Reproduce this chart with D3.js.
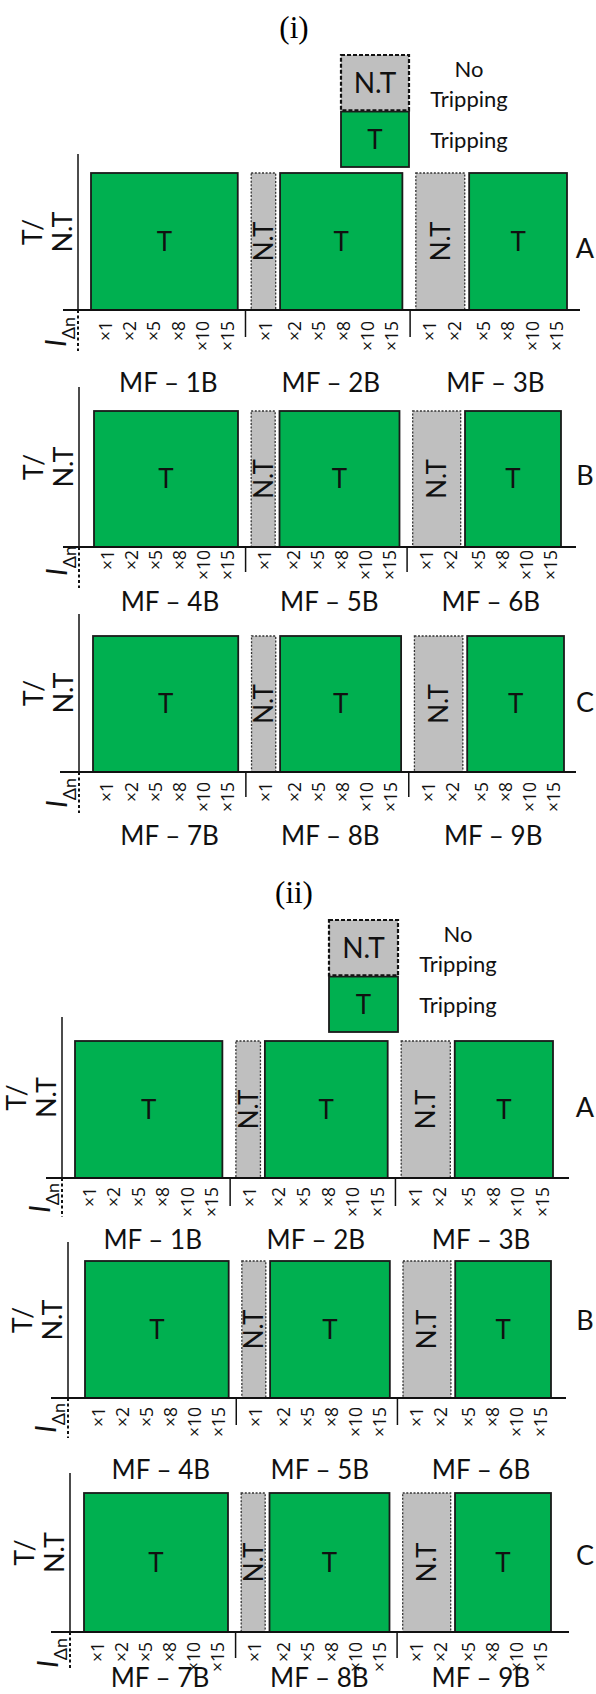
<!DOCTYPE html>
<html>
<head>
<meta charset="utf-8">
<script src="https://cdn.jsdelivr.net/npm/d3@7"></script>
<style>
body { margin: 0; background: #fff; }
svg { display: block; font-family: Lato, "Open Sans", sans-serif; }
</style>
</head>
<body>
<div id="chart"></div>
<script>
// ---- data ----
var currents = ["×1", "×2", "×5", "×8", "×10", "×15"];
var rowNames = ["A", "B", "C"];
var figureTitles = ["(i)", "(ii)"];
var samples = ["MF – 1B", "MF – 2B", "MF – 3B", "MF – 4B", "MF – 5B", "MF – 6B", "MF – 7B", "MF – 8B", "MF – 9B"];

// trip result per sample (rows) and test current (cols): T = tripping, NT = no tripping
var resultsI = [
    ["T", "T", "T", "T", "T", "T"],
    ["NT", "T", "T", "T", "T", "T"],
    ["NT", "NT", "T", "T", "T", "T"],
    ["T", "T", "T", "T", "T", "T"],
    ["NT", "T", "T", "T", "T", "T"],
    ["NT", "NT", "T", "T", "T", "T"],
    ["T", "T", "T", "T", "T", "T"],
    ["NT", "T", "T", "T", "T", "T"],
    ["NT", "NT", "T", "T", "T", "T"]
];
var resultsII = [
    ["T", "T", "T", "T", "T", "T"],
    ["NT", "T", "T", "T", "T", "T"],
    ["NT", "NT", "T", "T", "T", "T"],
    ["T", "T", "T", "T", "T", "T"],
    ["NT", "T", "T", "T", "T", "T"],
    ["NT", "NT", "T", "T", "T", "T"],
    ["T", "T", "T", "T", "T", "T"],
    ["NT", "T", "T", "T", "T", "T"],
    ["NT", "NT", "T", "T", "T", "T"]
];
var legendKeys = ["NT", "T"];
var legendBoxText = ["N.T", "T"];
var legendText = [["No", "Tripping"], ["Tripping"]];

// ---- layout ----
var W = 596, H = 1694;
var green = "#00b050", gray = "#bfbfbf";
var runGap = 0.18, groupGap = 0.55;

var figures = [
    { results: resultsI, titleY: 38, legend: { x: 341, y: 55, w: 68, h: 55, textX: 469 } },
    { results: resultsII, titleY: 903, legend: { x: 329, y: 920, w: 69, h: 55, textX: 458 } }
];

var panels = [
    { fig: 0, row: 0, axisX: 78, axisTop: 154, top: 173, base: 310, x0: 91, x1: 567, baseL: 63, baseR: 580, tickTop: 321, divBottom: 337, dotBottom: 351, mfY: 383, letterY: 248 },
    { fig: 0, row: 1, axisX: 79, axisTop: 387, top: 411, base: 547, x0: 94, x1: 561, baseL: 63, baseR: 576, tickTop: 550, divBottom: 572, dotBottom: 588, mfY: 602, letterY: 475 },
    { fig: 0, row: 2, axisX: 79, axisTop: 614, top: 636, base: 772, x0: 93, x1: 564, baseL: 60, baseR: 576, tickTop: 782, divBottom: 797, dotBottom: 813, mfY: 836, letterY: 702 },
    { fig: 1, row: 0, axisX: 62, axisTop: 1017, top: 1041, base: 1178, x0: 75, x1: 553, baseL: 46, baseR: 569, tickTop: 1187, divBottom: 1206, dotBottom: 1217, mfY: 1240, letterY: 1107 },
    { fig: 1, row: 1, axisX: 68, axisTop: 1242, top: 1261, base: 1398, x0: 85, x1: 551, baseL: 51, baseR: 566, tickTop: 1407, divBottom: 1425, dotBottom: 1438, mfY: 1470, letterY: 1320 },
    { fig: 1, row: 2, axisX: 70, axisTop: 1473, top: 1493, base: 1632, x0: 84, x1: 551, baseL: 51, baseR: 569, tickTop: 1642, divBottom: 1658, dotBottom: 1670, mfY: 1678, letterY: 1555 }
];

var svg = d3.select("#chart").append("svg")
    .attr("width", W)
    .attr("height", H);

// vertical text, centred on x
function vtext(g, x, y, str, size, anchor) {
    return g.append("text")
        .attr("transform", "translate(" + x + "," + y + ") rotate(-90)")
        .attr("text-anchor", anchor || "middle")
        .attr("dy", "0.36em")
        .attr("font-size", size)
        .attr("fill", "#111")
        .text(str);
}

function boxStyle(sel, key) {
    if (key == "T") {
        sel.attr("fill", green).attr("stroke", "#1a1a1a").attr("stroke-width", 1.8);
    } else {
        sel.attr("fill", gray).attr("stroke", "#333").attr("stroke-width", 1.3)
            .attr("stroke-dasharray", "2,1.6");
    }
}

// cells in "unit" space: one unit per test current, gaps between runs and groups
function buildCells(groups) {
    var cells = [], u = 0;
    groups.forEach(function (group, g) {
        if (g > 0) u += groupGap;
        group.forEach(function (st, i) {
            if (i > 0 && st != group[i - 1]) u += runGap;
            cells.push({ group: g, label: currents[i], status: st, u0: u, u1: u + 1 });
            u += 1;
        });
    });
    var runs = [];
    cells.forEach(function (c) {
        var prev = runs[runs.length - 1];
        if (prev && prev.group == c.group && prev.status == c.status) {
            prev.u1 = c.u1;
        } else {
            runs.push({ group: c.group, status: c.status, u0: c.u0, u1: c.u1 });
        }
    });
    return { cells: cells, runs: runs, total: u };
}

// titles + legends
figures.forEach(function (f, fi) {
    svg.append("text")
        .attr("x", 294).attr("y", f.titleY)
        .attr("text-anchor", "middle")
        .attr("font-family", "'Liberation Serif', 'Times New Roman', serif")
        .attr("font-size", 31)
        .text(figureTitles[fi]);

    var lg = f.legend;
    var ly = d3.scaleBand().domain(legendKeys).range([lg.y, lg.y + 2 * lg.h + 2]).paddingInner(0.02);
    legendKeys.forEach(function (k, i) {
        var r = svg.append("rect")
            .attr("x", lg.x).attr("y", ly(k))
            .attr("width", lg.w).attr("height", ly.bandwidth());
        boxStyle(r, k);
        if (k == "NT") r.attr("stroke", "#111").attr("stroke-width", 2.2).attr("stroke-dasharray", "4,2");
        var cy = ly(k) + ly.bandwidth() / 2;
        svg.append("text")
            .attr("x", lg.x + lg.w / 2).attr("y", cy + 10)
            .attr("text-anchor", "middle")
            .attr("font-size", k == "NT" ? 28 : 26)
            .attr("fill", "#111")
            .text(legendBoxText[i]);
        var lines = legendText[i];
        lines.forEach(function (t, j) {
            svg.append("text")
                .attr("x", lg.textX)
                .attr("y", cy + (j - (lines.length - 1) / 2) * 30 + 9)
                .attr("text-anchor", "middle")
                .attr("font-size", 22)
                .attr("fill", "#111")
                .text(t);
        });
    });
});

panels.forEach(function (p) {
    var groups = figures[p.fig].results.slice(p.row * 3, p.row * 3 + 3);
    var names = samples.slice(p.row * 3, p.row * 3 + 3);
    var layout = buildCells(groups);

    var x = d3.scaleLinear().domain([0, layout.total]).range([p.x0, p.x1]);
    var y = d3.scaleLinear().domain([0, 1]).range([p.base, p.top]);

    var g = svg.append("g");

    // bars, one per run of equal result
    g.selectAll("rect.bar")
        .data(layout.runs)
        .join("rect")
        .attr("class", "bar")
        .attr("x", function (d) { return x(d.u0); })
        .attr("width", function (d) { return x(d.u1) - x(d.u0); })
        .attr("y", y(1))
        .attr("height", y(0) - y(1))
        .each(function (d) { boxStyle(d3.select(this), d.status); });

    layout.runs.forEach(function (d) {
        var cx = (x(d.u0) + x(d.u1)) / 2;
        var cy = (y(0) + y(1)) / 2;
        if (d.status == "T") {
            g.append("text")
                .attr("x", cx).attr("y", cy + 9)
                .attr("text-anchor", "middle")
                .attr("font-size", 26)
                .attr("fill", "#111")
                .text("T");
        } else {
            vtext(g, cx, cy, "N.T", 26);
        }
    });

    // axes
    g.append("line")
        .attr("x1", p.axisX).attr("x2", p.axisX)
        .attr("y1", p.axisTop).attr("y2", p.base)
        .attr("stroke", "#111").attr("stroke-width", 1.5);
    g.append("line")
        .attr("x1", p.baseL).attr("x2", p.baseR)
        .attr("y1", p.base).attr("y2", p.base)
        .attr("stroke", "#111").attr("stroke-width", 2.2);
    g.append("line")
        .attr("x1", p.axisX).attr("x2", p.axisX)
        .attr("y1", p.base).attr("y2", p.dotBottom)
        .attr("stroke", "#111").attr("stroke-width", 2)
        .attr("stroke-dasharray", "3,2.5");

    // group dividers
    [1, 2].forEach(function (gi) {
        var prev = layout.cells.filter(function (c) { return c.group == gi - 1; });
        var next = layout.cells.filter(function (c) { return c.group == gi; });
        var dx = (x(prev[prev.length - 1].u1) + x(next[0].u0)) / 2 + 1;
        g.append("line")
            .attr("x1", dx).attr("x2", dx)
            .attr("y1", p.base).attr("y2", p.divBottom)
            .attr("stroke", "#111").attr("stroke-width", 1.5);
    });

    // current multiples
    layout.cells.forEach(function (c) {
        vtext(g, x((c.u0 + c.u1) / 2) + 2, p.tickTop, c.label, 17.5, "end")
            .attr("font-family", "'Open Sans', sans-serif");
    });

    // y label
    var my = (p.axisTop + p.base) / 2;
    vtext(g, p.axisX - 46, my, "T/", 27);
    vtext(g, p.axisX - 16, my, "N.T", 27);

    // I_Δn label
    var il = g.append("text")
        .attr("transform", "translate(" + (p.axisX - 12) + "," + (p.tickTop - 4) + ") rotate(-90)")
        .attr("text-anchor", "end")
        .attr("fill", "#111");
    il.append("tspan").attr("font-size", 29).attr("font-style", "italic").text("I");
    il.append("tspan").attr("font-size", 18).attr("dy", 9).text("Δn");

    // row letter
    g.append("text")
        .attr("x", 585).attr("y", p.letterY + 10)
        .attr("text-anchor", "middle")
        .attr("font-size", 27)
        .attr("fill", "#111")
        .text(rowNames[p.row]);

    // sample names
    names.forEach(function (n, gi) {
        var gc = layout.cells.filter(function (c) { return c.group == gi; });
        var cx = (x(gc[0].u0) + x(gc[gc.length - 1].u1)) / 2 + 4;
        g.append("text")
            .attr("x", cx).attr("y", p.mfY + 9)
            .attr("text-anchor", "middle")
            .attr("font-size", 26)
            .attr("fill", "#111")
            .text(n);
    });
});
</script>
</body>
</html>
